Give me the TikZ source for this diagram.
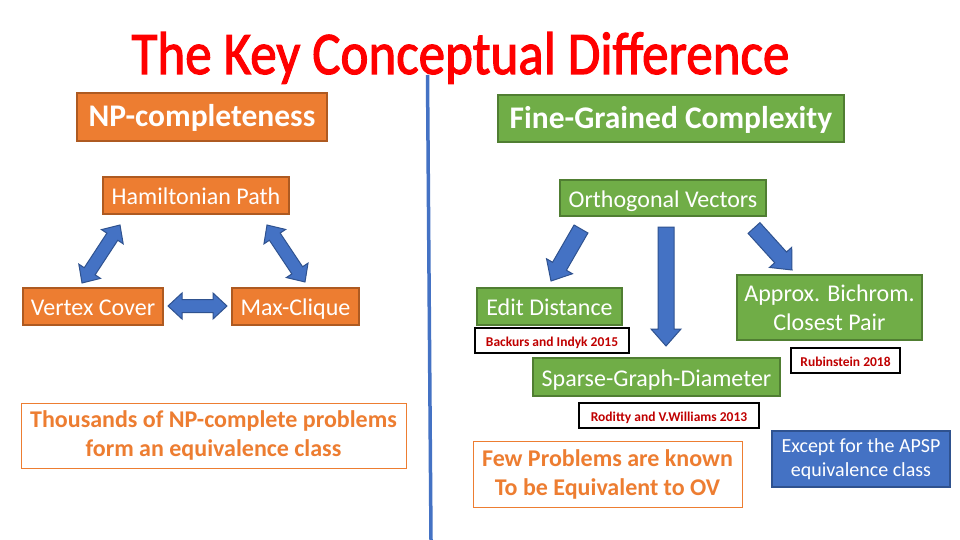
\documentclass[tikz,border=0pt]{standalone}
\usepackage{graphicx}
\usepackage{fontspec}
\setmainfont{Carlito}
\newfontfamily\titlefont[FakeBold=2]{Carlito}
\usetikzlibrary{calc}

\definecolor{orangefill}{HTML}{ED7D31}
\definecolor{orangeedge}{HTML}{AE5A21}
\definecolor{greenfill}{HTML}{70AD47}
\definecolor{greenedge}{HTML}{507E32}
\definecolor{bluefill}{HTML}{4472C4}
\definecolor{blueedge}{HTML}{2F528F}
\definecolor{citered}{HTML}{C00000}
\definecolor{titlered}{HTML}{FF0000}

\tikzset{
  probbox/.style={line width=1.3pt, text=white, inner sep=0pt, align=center,
    font=\fontsize{24}{29}\selectfont},
  oneline/.style={text height=19pt, text depth=1pt},
  orangebox/.style={probbox, draw=orangeedge, fill=orangefill},
  greenbox/.style={probbox, draw=greenedge, fill=greenfill},
  bluebox/.style={probbox, draw=blueedge, fill=bluefill, font=\fontsize{20}{24}\selectfont},
  headbox/.style={font=\bfseries\fontsize{31.5}{38}\selectfont, text height=22pt, text depth=2pt},
  citebox/.style={draw=black, line width=1.6pt, fill=white, inner sep=0pt,
    text height=13pt, text depth=2pt,
    text=citered, font=\bfseries\fontsize{13.5}{16}\selectfont},
  notebox/.style={draw=orangefill, line width=0.9pt, fill=white, inner sep=0pt,
    align=center, text=orangefill, font=\bfseries\fontsize{24}{29}\selectfont},
  blockarrow/.style={draw=blueedge, fill=bluefill, line width=1pt, line join=miter},
  divider/.style={draw=bluefill, line width=3.5pt}
}

% block arrow from #1 to #2
\newcommand{\blockarrow}[2]{%
  \draw[blockarrow] let \p1=($(#2)-(#1)$), \n1={atan2(\y1,\x1)}, \n2={veclen(\x1,\y1)} in
    [shift={(#1)}, rotate=\n1]
    (0pt,-8pt) -- ({\n2-17pt},-8pt) -- ({\n2-17pt},-15pt) -- (\n2,0pt)
    -- ({\n2-17pt},15pt) -- ({\n2-17pt},8pt) -- (0pt,8pt) -- cycle;
}
% double block arrow between #1 and #2
\newcommand{\dblockarrow}[2]{%
  \draw[blockarrow] let \p1=($(#2)-(#1)$), \n1={atan2(\y1,\x1)}, \n2={veclen(\x1,\y1)} in
    [shift={(#1)}, rotate=\n1]
    (0pt,0pt) -- (14pt,13pt) -- (14pt,6.5pt) -- ({\n2-14pt},6.5pt) -- ({\n2-14pt},13pt)
    -- (\n2,0pt) -- ({\n2-14pt},-13pt) -- ({\n2-14pt},-6.5pt) -- (14pt,-6.5pt)
    -- (14pt,-13pt) -- cycle;
}

\begin{document}
\begin{tikzpicture}[x=1pt, y=-1pt]
  \fill[white] (0,0) rectangle (960,540);
  \useasboundingbox (0,0) rectangle (960,540);

  % Coordinates
  \coordinate (divtop) at (427.5,75);
  \coordinate (divbot) at (431,540);
  \coordinate (hv1) at (120,225);
  \coordinate (hv2) at (82,283);
  \coordinate (hm1) at (267,225);
  \coordinate (hm2) at (305,282);
  \coordinate (vm1) at (168,306);
  \coordinate (vm2) at (227,306);
  \coordinate (oe1) at (581,229);
  \coordinate (oe2) at (551,281);
  \coordinate (os1) at (666,227);
  \coordinate (os2) at (666,346);
  \coordinate (oa1) at (754,228);
  \coordinate (oa2) at (792,270);

  % Title and divider
  \draw[divider] (divtop) -- (divbot);
  \node (title) [anchor=base, text=titlered, inner sep=0pt, font=\titlefont\fontsize{53}{64}\selectfont]
    at (460.5,74) {\scalebox{1}[1.14]{The Key Conceptual Difference}};

  % NP-completeness side
  \node (np) [orangebox, headbox, minimum width=250, minimum height=48] at (202,117) {NP-completeness};
  \node (ham) [orangebox, oneline, minimum width=186, minimum height=37] at (196,195.5) {Hamiltonian Path};
  \node (vc) [orangebox, oneline, minimum width=140, minimum height=37] at (93,306.5) {Vertex Cover};
  \node (mc) [orangebox, oneline, minimum width=127, minimum height=37] at (295.5,306.5) {Max-Clique};
  \node (thou) [notebox, minimum width=385, minimum height=65] at (213.5,435.5)
    {Thousands of NP-complete problems\\form an equivalence class};

  \dblockarrow{hv1}{hv2}
  \dblockarrow{hm1}{hm2}
  \dblockarrow{vm1}{vm2}

  % Fine-grained side
  \node (fgc) [greenbox, headbox, minimum width=346, minimum height=47] at (671,118.5) {Fine-Grained Complexity};
  \node (ov) [greenbox, oneline, minimum width=206, minimum height=36] at (663,198) {Orthogonal Vectors};
  \node (ed) [greenbox, oneline, minimum width=145, minimum height=37] at (549.5,306.5) {Edit Distance};
  \node (apx) [greenbox, minimum width=185, minimum height=65] at (829.5,307.5)
    {Approx. Bichrom.\\Closest Pair};
  \node (sgd) [greenbox, oneline, minimum width=247, minimum height=38] at (656.5,377) {Sparse-Graph-Diameter};
  \node (backurs) [citebox, minimum width=154, minimum height=25] at (552,340.5) {Backurs and Indyk 2015};
  \node (rubin) [citebox, minimum width=109, minimum height=25] at (845.5,360.5) {Rubinstein 2018};
  \node (roditty) [citebox, minimum width=180, minimum height=25] at (669,415.5) {Roditty and V.Williams 2013};
  \node (few) [notebox, minimum width=269, minimum height=66] at (607.5,474)
    {Few Problems are known\\To be Equivalent to OV};
  \node (apsp) [bluebox, minimum width=178, minimum height=56] at (861,459)
    {Except for the APSP\\equivalence class};

  \blockarrow{oe1}{oe2}
  \blockarrow{os1}{os2}
  \blockarrow{oa1}{oa2}
\end{tikzpicture}
\end{document}
